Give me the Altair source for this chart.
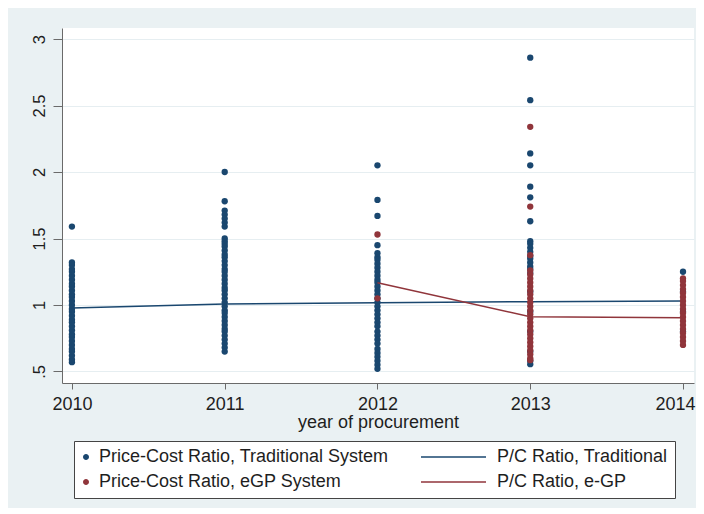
import altair as alt
import pandas as pd

# ---- data ----
years = [2010, 2011, 2012, 2013, 2014]

trad_2010 = [0.57, 0.59, 0.62, 0.65, 0.67, 0.70, 0.73, 0.76, 0.78, 0.81, 0.84, 0.87, 0.89, 0.92,
             0.95, 0.97, 1.00, 1.03, 1.06, 1.08, 1.11, 1.14, 1.16, 1.19, 1.22, 1.25, 1.27, 1.30,
             1.32, 1.59]
trad_2011 = [2.00, 1.78, 1.71, 1.68, 1.65, 1.62, 1.59, 1.50, 1.48, 1.46, 1.44, 1.41, 1.38, 1.36,
             1.33, 1.30, 1.27, 1.25, 1.22, 1.19, 1.16, 1.13, 1.11, 1.08, 1.05, 1.02, 0.99, 0.96,
             0.94, 0.91, 0.88, 0.85, 0.82, 0.80, 0.77, 0.74, 0.71, 0.68, 0.65]
trad_2012 = [2.05, 1.79, 1.67, 1.45, 1.39, 1.36, 1.34, 1.31, 1.28, 1.25, 1.22, 1.19, 1.17, 1.14,
             1.11, 1.08, 1.05, 1.02, 0.99, 0.96, 0.93, 0.90, 0.87, 0.84, 0.80, 0.77, 0.74, 0.71,
             0.67, 0.64, 0.61, 0.58, 0.55, 0.52]
trad_2013 = [2.86, 2.54, 2.14, 2.05, 1.89, 1.81, 1.63, 1.48, 1.46, 1.43, 1.40, 1.37, 1.35, 1.32,
             1.29, 1.27, 1.24, 1.10, 0.95, 0.80, 0.65, 0.58, 0.555]
trad_2014 = [1.25, 1.10, 0.95, 0.80]

egp_2012 = [1.53, 1.05]
egp_2013 = [2.34, 1.74, 1.375, 1.26, 1.23, 1.20, 1.17, 1.14, 1.11, 1.08, 1.05, 1.02, 0.99, 0.96,
            0.93, 0.90, 0.87, 0.84, 0.81, 0.78, 0.75, 0.72, 0.69, 0.66, 0.63, 0.60, 0.585]
egp_2014 = [1.20, 1.18, 1.15, 1.12, 1.09, 1.06, 1.03, 1.00, 0.97, 0.94, 0.91, 0.88, 0.85, 0.82,
            0.79, 0.76, 0.73, 0.70]

trad_line_years = [2010, 2011, 2012, 2013, 2014]
trad_line = [0.977, 1.008, 1.017, 1.025, 1.030]
egp_line_years = [2012, 2013, 2014]
egp_line = [1.168, 0.912, 0.905]

S_PT_T = "Price-Cost Ratio, Traditional System"
S_LN_T = "P/C Ratio, Traditional"
S_PT_E = "Price-Cost Ratio, eGP System"
S_LN_E = "P/C Ratio, e-GP"
series_order = [S_PT_T, S_LN_T, S_PT_E, S_LN_E]
series_colors = ["#1a476f", "#1a476f", "#90353b", "#90353b"]

# legend glyphs (unit = 8.5 px): a small dot, or a line ending just before the label
DOT = "M-0.824,0A0.353,0.353,0,1,1,-0.118,0A0.353,0.353,0,1,1,-0.824,0Z"
BAR = "M-7.882,-0.088H-0.235V0.088H-7.882Z"
series_shapes = [DOT, BAR, DOT, BAR]

rows = []
for yr, vals in zip(years, [trad_2010, trad_2011, trad_2012, trad_2013, trad_2014]):
    rows += [{"year": yr, "ratio": v, "series": S_PT_T} for v in vals]
for yr, vals in zip([2012, 2013, 2014], [egp_2012, egp_2013, egp_2014]):
    rows += [{"year": yr, "ratio": v, "series": S_PT_E} for v in vals]
rows += [{"year": y, "ratio": v, "series": S_LN_T} for y, v in zip(trad_line_years, trad_line)]
rows += [{"year": y, "ratio": v, "series": S_LN_E} for y, v in zip(egp_line_years, egp_line)]
df = pd.DataFrame(rows)

FONT = "Liberation Sans"
TXT = "#1e1e1e"
AX = "#6a6a6a"


def make_legend():
    return alt.Legend(
        title=None, orient="none", legendX=12, legendY=413, direction="horizontal",
        columns=2, columnPadding=32, rowPadding=7, padding=7,
        strokeColor="#444444", fillColor="white",
        labelFont=FONT, labelFontSize=18, labelColor=TXT, labelLimit=400,
        labelOffset=0, symbolOffset=0,
        symbolSize=289, symbolStrokeWidth=0, symbolOpacity=1)


x_enc = alt.X("year:Q",
              scale=alt.Scale(domain=[2009.935, 2014.072], nice=False, zero=False),
              axis=alt.Axis(values=years, format="d", title="year of procurement", grid=False,
                            tickSize=6, labelPadding=6, titlePadding=0,
                            labelOffset={"condition": {"test": "datum.value == 2014", "value": -8},
                                         "value": 0},
                            labelFontSize=18, titleFontSize=18, titleFontWeight="normal",
                            labelFont=FONT, titleFont=FONT, labelColor=TXT, titleColor=TXT,
                            domainColor=AX, tickColor=AX, labelFlush=False))
y_enc = alt.Y("ratio:Q",
              scale=alt.Scale(domain=[0.4135, 3.083], nice=False, zero=False),
              axis=alt.Axis(values=[0.5, 1, 1.5, 2, 2.5, 3], title=None,
                            labelExpr="datum.value == 0.5 ? '.5' : format(datum.value, '~g')",
                            labelAngle=270, labelAlign="center", labelBaseline="bottom",
                            tickSize=9, labelPadding=6, labelFontSize=16.5, labelFont=FONT,
                            labelColor=TXT, domainColor=AX, tickColor=AX,
                            grid=True, gridColor="#e6eef1", gridWidth=1.2))
color_enc = alt.Color("series:N",
                      scale=alt.Scale(domain=series_order, range=series_colors),
                      legend=make_legend())
shape_enc = alt.Shape("series:N",
                      scale=alt.Scale(domain=series_order, range=series_shapes),
                      legend=make_legend())

base = alt.Chart(df)

pts_t = base.mark_point(filled=True, size=40, opacity=1).encode(
    x=x_enc, y=y_enc, color=color_enc).transform_filter(alt.datum.series == S_PT_T)
ln_t = base.mark_line(strokeWidth=1.5).encode(
    x=x_enc, y=y_enc, color=color_enc).transform_filter(alt.datum.series == S_LN_T)
pts_e = base.mark_point(filled=True, size=40, opacity=1).encode(
    x=x_enc, y=y_enc, color=color_enc).transform_filter(alt.datum.series == S_PT_E)
ln_e = base.mark_line(strokeWidth=1.5).encode(
    x=x_enc, y=y_enc, color=color_enc).transform_filter(alt.datum.series == S_LN_E)
# layer carrying only the legend glyph scale (draws nothing)
key = base.mark_point(filled=True, size=40, opacity=1).encode(
    x=x_enc, y=y_enc, color=color_enc, shape=shape_enc).transform_filter("false")

chart = alt.layer(key, pts_t, ln_t, pts_e, ln_e).properties(
    width=632, height=355,
    background="#eaf1f3",
    padding={"left": 54, "top": 20, "right": 2, "bottom": 125},
    autosize=alt.AutoSizeParams(type="none"),
).configure_view(stroke=None, fill="white")

chart.save("out.html", embed_options={"renderer": "svg", "actions": False})
